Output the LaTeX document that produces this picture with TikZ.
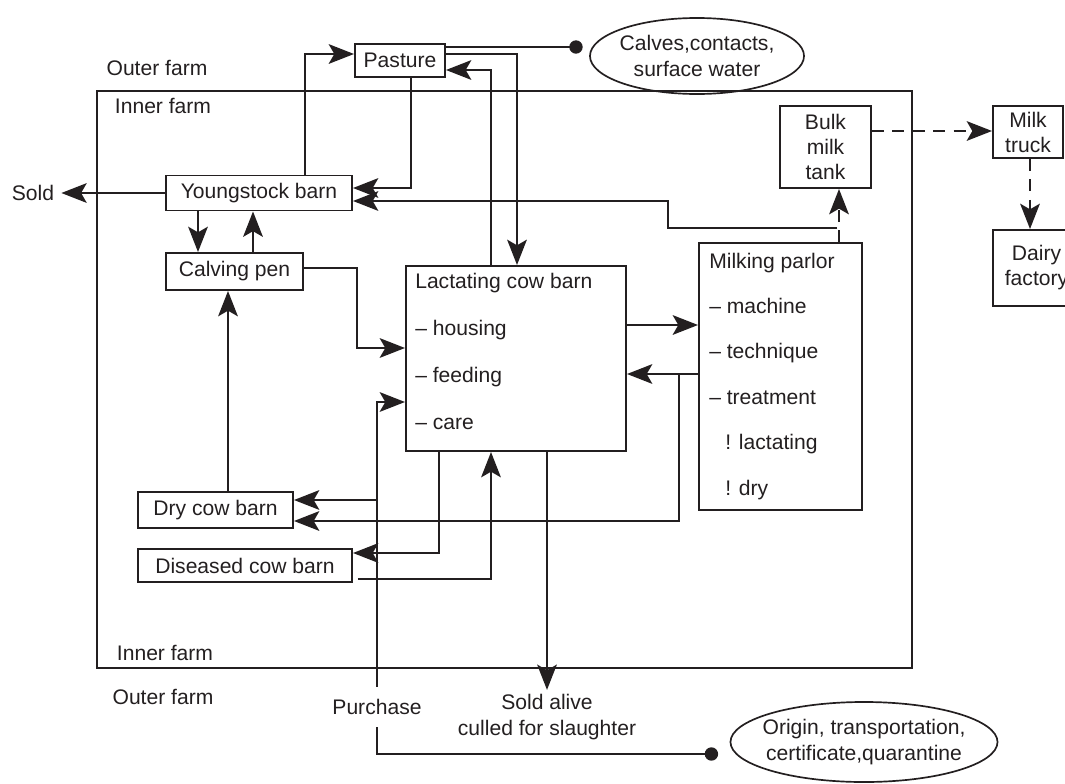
\documentclass[tikz,border=0pt]{standalone}
\usepackage{fontspec}
\setmainfont{Liberation Sans}
\usetikzlibrary{arrows.meta,shapes.geometric,calc}
\definecolor{ink}{HTML}{231F20}

\begin{document}
\begin{tikzpicture}[x=0.025cm,y=-0.025cm,
    every node/.style={text=ink,font=\fontsize{15pt}{18pt}\selectfont},
    box/.style={draw=ink,line width=1.4pt,inner sep=0pt,align=center},
    oval/.style={ellipse,draw=ink,line width=1.2pt,inner xsep=-0.2cm,inner ysep=0pt,align=center,font=\fontsize{15pt}{18.5pt}\selectfont},
    arr/.style={draw=ink,line width=1.4pt,-{Stealth[length=18pt,width=14pt,inset=4pt]}},
    dasharr/.style={arr,dash pattern=on 8.5pt off 6pt},
    dotline/.style={draw=ink,line width=1.4pt,-{Circle[length=9.5pt]}}]
\useasboundingbox (0,0) rectangle (1065,783);

\draw[ink,line width=1.4pt] (97,91) rectangle (912,668);
\node (outertop) at (157,68) {Outer farm};
\node (innertop) at (163,106) {Inner farm};
\node (innerbot) at (165,653) {Inner farm};
\node (outerbot) at (163,697) {Outer farm};

\node[box,minimum width=2.25cm,minimum height=0.825cm] (pasture) at (400,60.5) {Pasture};
\node[oval,minimum width=5.35cm,minimum height=1.9cm] (calves) at (697,56) {Calves,contacts,\\surface water};
\node[box,minimum width=4.65cm,minimum height=0.875cm] (young) at (259,193) {Youngstock barn};
\node[inner sep=0.175cm] (sold) at (33,193) {Sold};
\node[box,minimum width=3.425cm,minimum height=0.925cm] (calving) at (234.5,271.5) {Calving pen};
\node[box,minimum width=5.5cm,minimum height=4.625cm] (lact) at (516,358.5) {};
\node[anchor=north west,align=left,inner sep=0pt,font=\fontsize{15pt}{33.4pt}\selectfont] (lacttext)
    at ($(lact.north west)+(10,8)$) {Lactating cow barn\\– housing\\– feeding\\– care};
\node[box,minimum width=4.075cm,minimum height=6.675cm] (parlor) at (780.5,376.5) {};
\node[anchor=north west,align=left,inner sep=0pt,font=\fontsize{15pt}{32.3pt}\selectfont] (parlortext)
    at ($(parlor.north west)+(11,10.5)$) {Milking parlor\\– machine\\– technique\\– treatment\\\hspace*{0.4cm}! lactating\\\hspace*{0.4cm}! dry};
\node[box,minimum width=2.275cm,minimum height=2.05cm,font=\fontsize{15pt}{18.1pt}\selectfont] (bulk) at (825.5,147) {Bulk\\milk\\tank};
\node[box,minimum width=1.75cm,minimum height=1.3cm,font=\fontsize{15pt}{17.8pt}\selectfont] (truck) at (1028,132) {Milk\\truck};
\node[box,minimum width=2.175cm,minimum height=1.9cm,font=\fontsize{15pt}{17.8pt}\selectfont] (dairy) at (1036.5,268) {Dairy\\factory};
\node[box,minimum width=3.875cm,minimum height=0.9cm] (dry) at (215.5,510) {Dry cow barn};
\node[box,minimum width=5.35cm,minimum height=0.825cm] (diseased) at (245,565.5) {Diseased cow barn};
\node[inner sep=0.3cm] (purchase) at (377,707) {Purchase};
\node[align=center,inner sep=0.1cm,font=\fontsize{15pt}{18.5pt}\selectfont] (soldalive) at (547,717) {Sold alive\\culled for slaughter};
\node[oval,minimum width=6.675cm,minimum height=2cm] (origin) at (864,742) {Origin, transportation,\\certificate,quarantine};

\coordinate (milksplit) at (837,228);
\coordinate (drysplit) at (679,374);

\draw[arr] (young.north -| 305,0) |- (pasture.west |- 0,54);
\draw[arr] (pasture.south -| 411,0) |- (young.east |- 0,188);
\draw[dotline,shorten >=4.6pt] (pasture.east |- 0,47) -- (calves.west |- 0,47);
\draw[arr] (pasture.east |- 0,54) -| (lact.north -| 517,0);
\draw[arr] (lact.north -| 491,0) |- (pasture.east |- 0,70);
\draw[arr] (young.south -| 198,0) -- (calving.north -| 198,0);
\draw[arr] (calving.north -| 253,0) -- (young.south -| 253,0);
\draw[arr] (young.west) -- (sold.east);
\draw[arr] (calving.east |- 0,268) -| (357,300) |- (lact.west |- 0,348);
\draw[arr] (dry.north -| 228,0) -- (calving.south -| 228,0);
\draw[arr] (purchase.north) |- (lact.west |- 0,402);
\draw[arr] (purchase.north |- 0,500) -- (dry.east |- 0,500);
\draw[dotline,shorten >=8.2pt] (purchase.south) |- (origin.west |- 0,754);
\draw[arr] (lact.east |- 0,325) -- (parlor.west |- 0,325);
\draw[arr] (parlor.west |- 0,374) -- (lact.east |- 0,374);
\draw[arr] (drysplit) |- (dry.east |- 0,521);
\draw[arr] (lact.south -| 439,0) |- (diseased.east |- 0,553);
\draw[arr,shorten <=3.5pt] (diseased.east |- 0,579) -| (lact.south -| 491,0);
\draw[arr] (lact.south -| 547,0) -- (soldalive.north);
\draw[dasharr] (parlor.north -| 839,0) -- (bulk.south -| 839,0);
\draw[arr] (milksplit) -| (668,215) |- (young.east |- 0,201);
\draw[dasharr] (bulk.east |- 0,131) -- (truck.west |- 0,131);
\draw[dasharr] (truck.south -| 1030,0) -- (dairy.north -| 1030,0);
\end{tikzpicture}
\end{document}
